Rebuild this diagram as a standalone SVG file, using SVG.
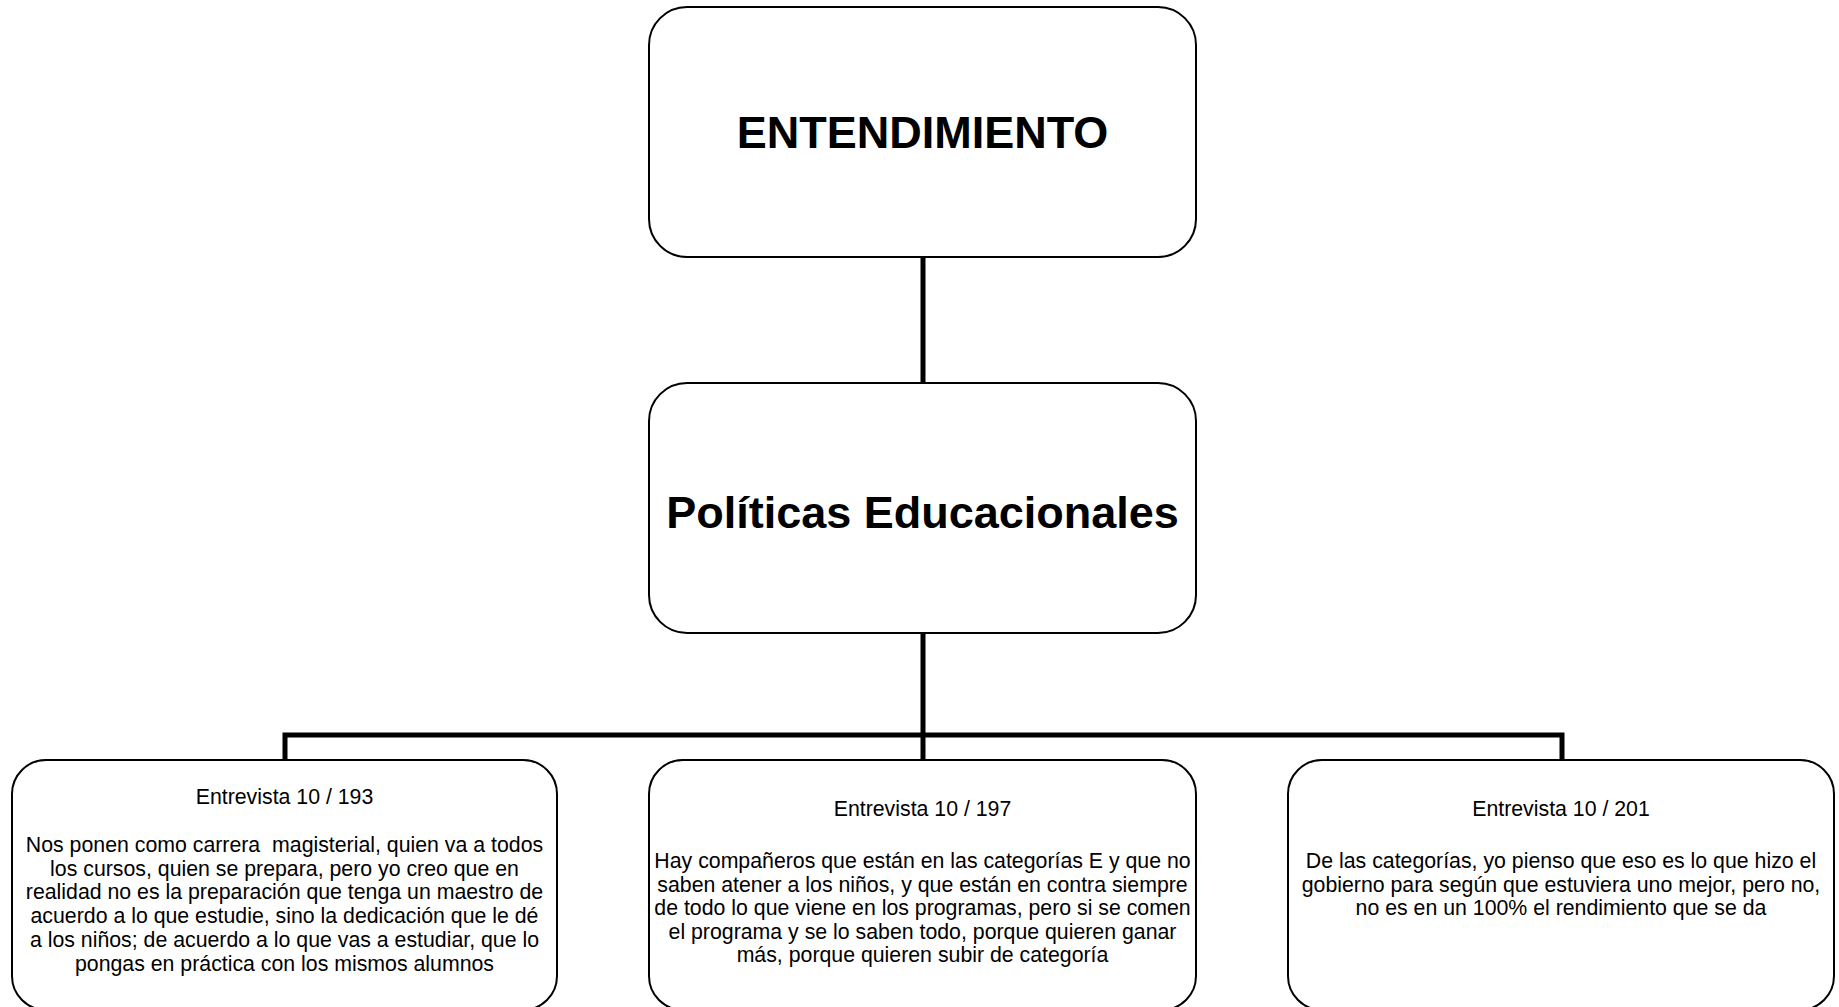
<svg xmlns="http://www.w3.org/2000/svg" width="1839" height="1007" viewBox="0 0 1839 1007">
<style>
.box{fill:#fff;stroke:#000;stroke-width:2}
.conn{fill:none;stroke:#000;stroke-width:5;stroke-linejoin:miter;stroke-linecap:butt}
.title{font-family:"Liberation Sans",Arial,sans-serif;font-weight:bold;font-size:45px;text-anchor:middle;fill:#000}
.txt{font-family:"Liberation Sans",Arial,sans-serif;font-size:21.3px;text-anchor:middle;fill:#000}
</style>
<rect width="1839" height="1007" fill="#fff"/>
<g id="connectors">
<line class="conn" x1="923" y1="257" x2="923" y2="383"/>
<line class="conn" x1="923" y1="633" x2="923" y2="760"/>
<path class="conn" d="M285,760 V735 H1562 V760"/>
</g>
<g id="node-entendimiento">
<rect class="box" x="649" y="7" width="547" height="250" rx="38" ry="38"/>
<text class="title" x="922.5" y="148">ENTENDIMIENTO</text>
</g>
<g id="node-politicas">
<rect class="box" x="649" y="383" width="547" height="250" rx="38" ry="38"/>
<text class="title" x="922.5" y="528">Políticas Educacionales</text>
</g>
<g id="node-e193">
<rect class="box" x="12" y="760" width="545" height="250" rx="34" ry="34"/>
<text class="txt" x="284.5" y="804">Entrevista 10 / 193</text>
<text class="txt" x="284.5" y="852" xml:space="preserve">Nos ponen como carrera  magisterial, quien va a todos</text>
<text class="txt" x="284.5" y="875.7">los cursos, quien se prepara, pero yo creo que en</text>
<text class="txt" x="284.5" y="899.4">realidad no es la preparación que tenga un maestro de</text>
<text class="txt" x="284.5" y="923.1">acuerdo a lo que estudie, sino la dedicación que le dé</text>
<text class="txt" x="284.5" y="946.8">a los niños; de acuerdo a lo que vas a estudiar, que lo</text>
<text class="txt" x="284.5" y="970.5">pongas en práctica con los mismos alumnos</text>
</g>
<g id="node-e197">
<rect class="box" x="649" y="760" width="547" height="250" rx="34" ry="34"/>
<text class="txt" x="922.5" y="816">Entrevista 10 / 197</text>
<text class="txt" x="922.5" y="868">Hay compañeros que están en las categorías E y que no</text>
<text class="txt" x="922.5" y="891.5">saben atener a los niños, y que están en contra siempre</text>
<text class="txt" x="922.5" y="915">de todo lo que viene en los programas, pero si se comen</text>
<text class="txt" x="922.5" y="938.5">el programa y se lo saben todo, porque quieren ganar</text>
<text class="txt" x="922.5" y="962">más, porque quieren subir de categoría</text>
</g>
<g id="node-e201">
<rect class="box" x="1288" y="760" width="546" height="250" rx="34" ry="34"/>
<text class="txt" x="1561" y="816">Entrevista 10 / 201</text>
<text class="txt" x="1561" y="868">De las categorías, yo pienso que eso es lo que hizo el</text>
<text class="txt" x="1561" y="891.5">gobierno para según que estuviera uno mejor, pero no,</text>
<text class="txt" x="1561" y="915">no es en un 100% el rendimiento que se da</text>
</g>
</svg>
